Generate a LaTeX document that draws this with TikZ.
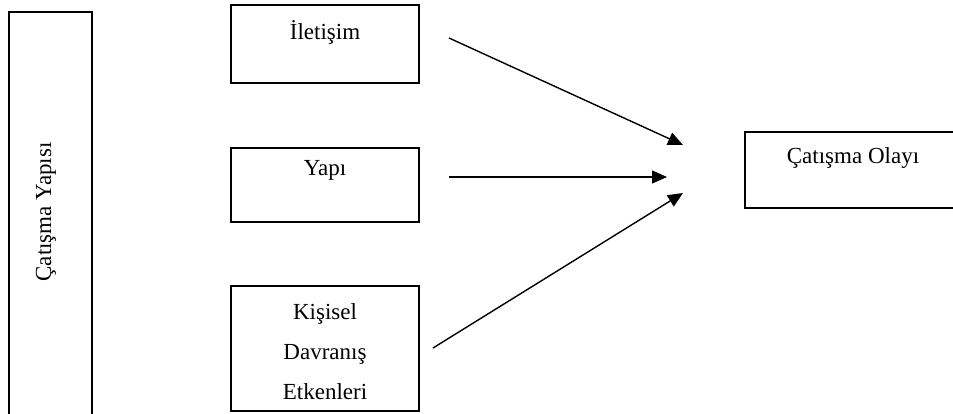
\documentclass[tikz,border=0pt]{standalone}
\usepackage{fontspec}
\setmainfont{Liberation Serif}
\usetikzlibrary{arrows.meta}
\begin{document}
\begin{tikzpicture}[x=1pt,y=-1pt,
  box/.style={draw,line width=1.3pt,rectangle,inner sep=0pt},
  lbl/.style={font=\fontsize{23}{40}\selectfont,inner sep=0pt,align=center},
  arr/.style={line width=1.4pt,-{Triangle[length=15pt,width=13pt]}}]
\useasboundingbox (0,0) rectangle (953,414);
\clip (0,0) rectangle (953,414);
\node[box,minimum width=83pt,minimum height=420pt] (yapisi) at (50.5,222) {};
\node[lbl,rotate=90] (yapisit) at (46,212) {Çatışma Yapısı};
\node[box,minimum width=188pt,minimum height=78pt] (ilet) at (325,44) {};
\node[lbl] (iletT) at (325,32) {İletişim};
\node[box,minimum width=188pt,minimum height=74pt] (yapi) at (325,185) {};
\node[lbl] (yapiT) at (325,170) {Yapı};
\node[box,minimum width=188pt,minimum height=125pt] (kisi) at (325,348.5) {};
\node[lbl] (kisiT) at (325,352) {Kişisel\\Davranış\\Etkenleri};
\node[box,minimum width=220pt,minimum height=76pt] (olay) at (855,170) {};
\node[lbl] (olayT) at (853,158) {Çatışma Olayı};
\coordinate (a1) at (449,38);
\coordinate (b1) at (683,145);
\coordinate (a2) at (449,177);
\coordinate (b2) at (667,177);
\coordinate (a3) at (433,348);
\coordinate (b3) at (683,193);
\draw[arr] (a1) -- (b1);
\draw[arr] (a2) -- (b2);
\draw[arr] (a3) -- (b3);
\end{tikzpicture}
\end{document}
